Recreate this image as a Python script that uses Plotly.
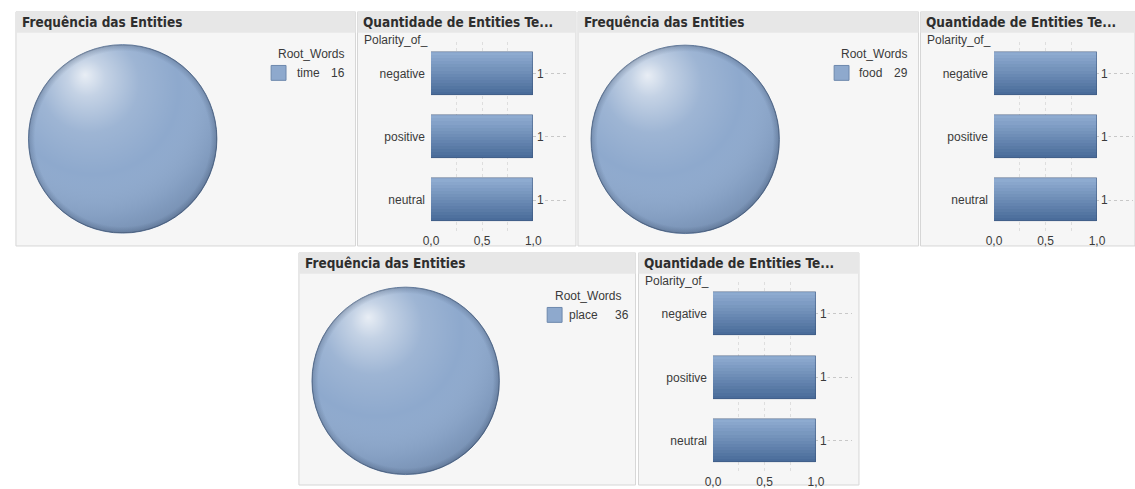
import base64
import plotly.graph_objects as go

W, H = 1135, 489

# ---- data -------------------------------------------------------------
root_words = ["time", "food", "place"]
root_counts = [16, 29, 36]
polarity_labels = ["negative", "positive", "neutral"]
polarity_time = [1, 1, 1]
polarity_food = [1, 1, 1]
polarity_place = [1, 1, 1]
x_tick_values = [0.0, 0.5, 1.0]
x_grid_values = [0.25, 0.5, 0.75]

pie_title = "Frequência das Entities"
bar_title = "Quantidade de Entities Te..."
legend_title = "Root_Words"
bar_axis_title = "Polarity_of_"

# ---- styling ----------------------------------------------------------
PANEL_BG = "#f6f6f6"
TITLE_BG = "#e7e7e7"
PANEL_LINE = "#d6d6d6"
PIE_COLOR = "#8ea9cd"
TEXT = "#3a3a3a"
LABEL_FONT = "Liberation Sans, Arial, sans-serif"
TITLE_FONT = "DejaVu Sans Condensed, Open Sans, sans-serif"
BAR_TOP = (0x8e, 0xab, 0xd0)
BAR_BOTTOM = (0x4a, 0x6c, 0x9a)
N_BANDS = 14
BAR_WIDTH = 0.677
X_MAX = 1.35


def fx(x):
    return x / W


def fy(y):
    return 1 - y / H


# pixel layout of each dashboard group
groups = [
    dict(word=root_words[0], count=root_counts[0], pol=polarity_time,
         pie_panel=(8, 350, 12, 248), bar_panel=(352, 572, 12, 248),
         pie_c=(115.5, 140.0), pie_r=95.0,
         leg=dict(title_r=340, title_y=54, sw=(265, 66), lab_x=289, val_r=341, row_y=74),
         bar_plot=(426, 565, 42.5, 233.5)),
    dict(word=root_words[1], count=root_counts[1], pol=polarity_food,
         pie_panel=(574, 917, 12, 248), bar_panel=(919, 1135, 12, 248),
         pie_c=(682.0, 140.5), pie_r=95.0,
         leg=dict(title_r=907, title_y=54, sw=(832, 66), lab_x=855, val_r=908, row_y=74),
         bar_plot=(993, 1133, 42.5, 233.5)),
    dict(word=root_words[2], count=root_counts[2], pol=polarity_place,
         pie_panel=(293, 632, 255, 489), bar_panel=(635, 857, 255, 489),
         pie_c=(400.5, 384.0), pie_r=94.5,
         leg=dict(title_r=619, title_y=298, sw=(543, 310), lab_x=563, val_r=627, row_y=318),
         bar_plot=(710, 850, 284.5, 476.5)),
]

# glossy shading laid over each pie
sphere_svg = """<svg xmlns="http://www.w3.org/2000/svg" viewBox="0 0 200 200" width="200" height="200">
<defs>
<radialGradient id="hl" cx="0.38" cy="0.3" r="0.82" fx="0.3" fy="0.16">
<stop offset="0" stop-color="#ffffff" stop-opacity="0.8"/>
<stop offset="0.12" stop-color="#ffffff" stop-opacity="0.48"/>
<stop offset="0.32" stop-color="#ffffff" stop-opacity="0.14"/>
<stop offset="0.55" stop-color="#ffffff" stop-opacity="0"/>
<stop offset="0.8" stop-color="#20324f" stop-opacity="0.1"/>
<stop offset="1" stop-color="#20324f" stop-opacity="0.3"/>
</radialGradient>
<radialGradient id="rim" cx="0.5" cy="0.5" r="0.5">
<stop offset="0.93" stop-color="#1c2c46" stop-opacity="0"/>
<stop offset="0.985" stop-color="#1c2c46" stop-opacity="0.18"/>
<stop offset="1" stop-color="#1c2c46" stop-opacity="0.45"/>
</radialGradient>
</defs>
<circle cx="100" cy="100" r="100" fill="url(#hl)"/>
<circle cx="100" cy="100" r="100" fill="url(#rim)"/>
</svg>"""
sphere_uri = "data:image/svg+xml;base64," + base64.b64encode(sphere_svg.encode()).decode()


def band_color(k):
    t = k / (N_BANDS - 1)
    r, g, b = (round(a + (c - a) * t) for a, c in zip(BAR_TOP, BAR_BOTTOM))
    return f"rgb({r},{g},{b})"


fig = go.Figure()
shapes, annotations, images = [], [], []
layout_axes = {}


def panel(box, title):
    x0, x1, y0, y1 = box
    shapes.append(dict(type="rect", xref="paper", yref="paper", layer="below",
                       x0=fx(x0), x1=fx(x1), y0=fy(y1), y1=fy(y0),
                       fillcolor=PANEL_BG, line=dict(color=PANEL_LINE, width=1)))
    shapes.append(dict(type="rect", xref="paper", yref="paper", layer="below",
                       x0=fx(x0), x1=fx(x1), y0=fy(y0 + 21), y1=fy(y0),
                       fillcolor=TITLE_BG, line=dict(width=0)))
    annotations.append(dict(text=title, xref="paper", yref="paper",
                            x=fx(x0 + 4), y=fy(y0 + 10.5), xanchor="left", yanchor="middle",
                            showarrow=False,
                            font=dict(family=TITLE_FONT, size=13.5, color="#2e2e2e", weight="bold")))


for i, g in enumerate(groups, start=1):
    # ---------- pie panel ----------
    panel(g["pie_panel"], pie_title)
    cx, cy = g["pie_c"]
    r = g["pie_r"]
    fig.add_trace(go.Pie(
        labels=[g["word"]], values=[g["count"]], sort=False,
        domain=dict(x=[fx(cx - r), fx(cx + r)], y=[fy(cy + r), fy(cy - r)]),
        marker=dict(colors=[PIE_COLOR], line=dict(color="#6a83a5", width=1)),
        textinfo="none", showlegend=False, hoverinfo="label+value",
    ))
    images.append(dict(source=sphere_uri, xref="paper", yref="paper",
                       x=fx(cx - r), y=fy(cy - r), sizex=fx(2 * r), sizey=2 * r / H,
                       xanchor="left", yanchor="top", sizing="stretch", layer="above"))

    lg = g["leg"]
    annotations.append(dict(text=legend_title, xref="paper", yref="paper",
                            x=fx(lg["title_r"]), y=fy(lg["title_y"]), xanchor="right", yanchor="middle",
                            showarrow=False, font=dict(family=LABEL_FONT, size=12, color=TEXT)))
    sx, sy = lg["sw"]
    shapes.append(dict(type="rect", xref="paper", yref="paper",
                       x0=fx(sx), x1=fx(sx + 15), y0=fy(sy + 15), y1=fy(sy),
                       fillcolor=PIE_COLOR, line=dict(color="#6d88ad", width=1)))
    annotations.append(dict(text=g["word"], xref="paper", yref="paper",
                            x=fx(lg["lab_x"]), y=fy(lg["row_y"]), xanchor="left", yanchor="middle",
                            showarrow=False, font=dict(family=LABEL_FONT, size=12, color=TEXT)))
    annotations.append(dict(text=str(g["count"]), xref="paper", yref="paper",
                            x=fx(lg["val_r"]), y=fy(lg["row_y"]), xanchor="right", yanchor="middle",
                            showarrow=False, font=dict(family=LABEL_FONT, size=12, color=TEXT)))

    # ---------- bar panel ----------
    panel(g["bar_panel"], bar_title)
    xa, ya = f"x{i}", f"y{i}"
    px0, px1, py0, py1 = g["bar_plot"]
    for k in range(N_BANDS):
        fig.add_trace(go.Bar(
            x=g["pol"], y=polarity_labels, orientation="h",
            width=BAR_WIDTH / N_BANDS * 1.02, offset=-BAR_WIDTH / 2 + k * BAR_WIDTH / N_BANDS,
            marker=dict(color=band_color(k), line=dict(width=0)),
            xaxis=xa, yaxis=ya, showlegend=False, hoverinfo="skip",
        ))
    fig.add_trace(go.Bar(
        x=g["pol"], y=polarity_labels, orientation="h",
        width=BAR_WIDTH, offset=-BAR_WIDTH / 2,
        marker=dict(color="rgba(0,0,0,0)", line=dict(color="rgba(55,82,120,0.5)", width=1)),
        xaxis=xa, yaxis=ya, showlegend=False, hoverinfo="x+y",
    ))
    for lab, v in zip(polarity_labels, g["pol"]):
        annotations.append(dict(text=str(v), x=v, y=lab, xref=xa, yref=ya,
                                xanchor="left", yanchor="middle", xshift=3, showarrow=False,
                                bgcolor=PANEL_BG, borderpad=0,
                                font=dict(family=LABEL_FONT, size=12, color=TEXT)))
    annotations.append(dict(text=bar_axis_title, xref="paper", yref="paper",
                            x=fx(g["bar_panel"][0] + 5), y=fy(g["bar_panel"][2] + 28),
                            xanchor="left", yanchor="middle", showarrow=False,
                            font=dict(family=LABEL_FONT, size=12, color=TEXT)))

    key = "" if i == 1 else str(i)
    layout_axes["xaxis" + key] = dict(
        domain=[fx(px0), fx(px1)], anchor=ya, range=[0, X_MAX],
        tickvals=x_tick_values, tickformat=".1f", ticks="", showgrid=False,
        zeroline=False, showline=False, ticklabelstandoff=0,
        tickfont=dict(family=LABEL_FONT, size=12, color=TEXT),
        minor=dict(tickvals=x_grid_values, showgrid=True, gridcolor="#dedede",
                   griddash="dot", gridwidth=1, ticks=""),
        fixedrange=True,
    )
    layout_axes["yaxis" + key] = dict(
        domain=[fy(py1), fy(py0)], anchor=xa, type="category",
        categoryorder="array", categoryarray=polarity_labels, autorange="reversed",
        showgrid=True, gridcolor="#c8c8c8", griddash="dot", gridwidth=1,
        ticks="", ticklabelstandoff=5, zeroline=False, showline=False,
        tickfont=dict(family=LABEL_FONT, size=12, color=TEXT), fixedrange=True,
    )

fig.update_layout(
    width=W, height=H, margin=dict(l=0, r=0, t=0, b=0),
    paper_bgcolor="white", plot_bgcolor="rgba(0,0,0,0)",
    barmode="overlay", bargap=0, separators=",.",
    shapes=shapes, annotations=annotations, images=images,
    **layout_axes,
)

fig.write_html("out.html")
